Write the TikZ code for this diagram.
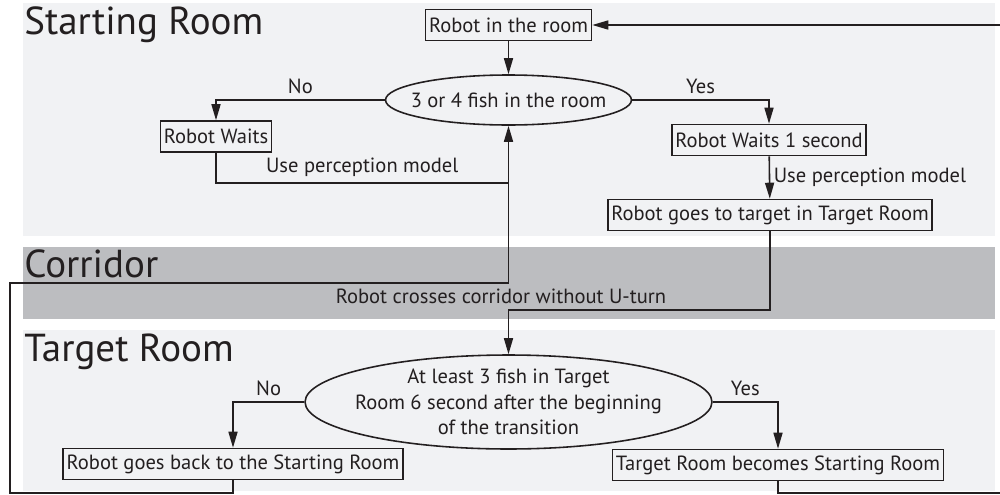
\documentclass[tikz,border=0pt]{standalone}
\usepackage{fontspec}
\setmainfont{PT Sans}
\usetikzlibrary{arrows.meta,shapes.geometric}
\definecolor{roombg}{HTML}{F1F2F4}
\definecolor{corrbg}{HTML}{BCBDC0}
\definecolor{ink}{HTML}{231F20}
\begin{document}
\begin{tikzpicture}[x=0.02cm,y=-0.02cm,
  every node/.style={text=ink},
  box/.style={draw=ink, line width=0.9pt, font=\fontsize{11.7}{13.5}\selectfont, inner xsep=2pt, inner ysep=0pt, minimum height=0.62cm},
  dec/.style={draw=ink, line width=0.9pt, ellipse, inner sep=-30pt, font=\fontsize{11.7}{14.5}\selectfont, align=center},
  lbl/.style={font=\fontsize{11.7}{13.5}\selectfont},
  title/.style={font=\fontsize{22.2}{25}\selectfont, anchor=base west, inner sep=0pt},
  conn/.style={draw=ink, line width=0.9pt},
  arr/.style={conn, -{Triangle[length=0.32cm, width=0.18cm]}}
]
\useasboundingbox (0,0) rectangle (1000,494);
% backgrounds
\fill[roombg] (23,3) rectangle (995,236);
\fill[corrbg] (23,247) rectangle (995,319);
\fill[roombg] (23,330) rectangle (995,491);
% titles
\node[title] (tstart) at (24,34) {Starting Room};
\node[title] (tcorr) at (24,277) {Corridor};
\node[title] (ttarget) at (24,361) {Target Room};
% nodes
\node[box] (room) at (508.5,25) {Robot in the room};
\node[dec, minimum width=4.92cm, minimum height=1.0cm] (q1) at (508.5,100) {3 or 4 fish in the room};
\node[box] (wait) at (216,136.5) {Robot Waits};
\node[box] (wait1) at (769,140) {Robot Waits 1 second};
\node[box] (goes) at (770,215) {Robot goes to target in Target Room};
\node[lbl] (cross) at (501,296) {Robot crosses corridor without U-turn};
\node[dec, minimum width=8.14cm, minimum height=1.88cm] (q2) at (508.5,402) {At least 3 fish in Target\\Room 6 second after the beginning\\of the transition};
\node[box] (back) at (233,464) {Robot goes back to the Starting Room};
\node[box] (become) at (778,465) {Target Room becomes Starting Room};
% helper coordinates
\coordinate (rin) at (1000,25);
\coordinate (join) at (508.5,183);
\coordinate (lbot) at (10,493);
\coordinate (ltop) at (10,283);
\coordinate (cc) at (508.5,310);
\coordinate (rout) at (1000,493);
% connectors
\draw[arr] (rin) -- (room.east);
\draw[arr] (room) -- (q1);
\draw[arr] (q1.west) -| node[lbl, pos=0.25, above] {No} (wait.north);
\draw[arr] (q1.east) -| node[lbl, pos=0.25, above] {Yes} (wait1.north);
\draw[conn] (wait.south) |- node[lbl, pos=0.75, above] {Use perception model} (join);
\draw[arr] (back.south) |- (lbot) -- (ltop) -| (q1.south);
\draw[arr] (wait1) -- node[lbl, right, inner xsep=2pt] {Use perception model} (goes);
\draw[arr] (goes.south) |- (cc) -- (q2.north);
\draw[arr] (q2.west) -| node[lbl, pos=0.25, above] {No} (back.north);
\draw[arr] (q2.east) -| node[lbl, pos=0.25, above] {Yes} (become.north);
\draw[conn] (become.south) |- (rout);
\end{tikzpicture}
\end{document}
